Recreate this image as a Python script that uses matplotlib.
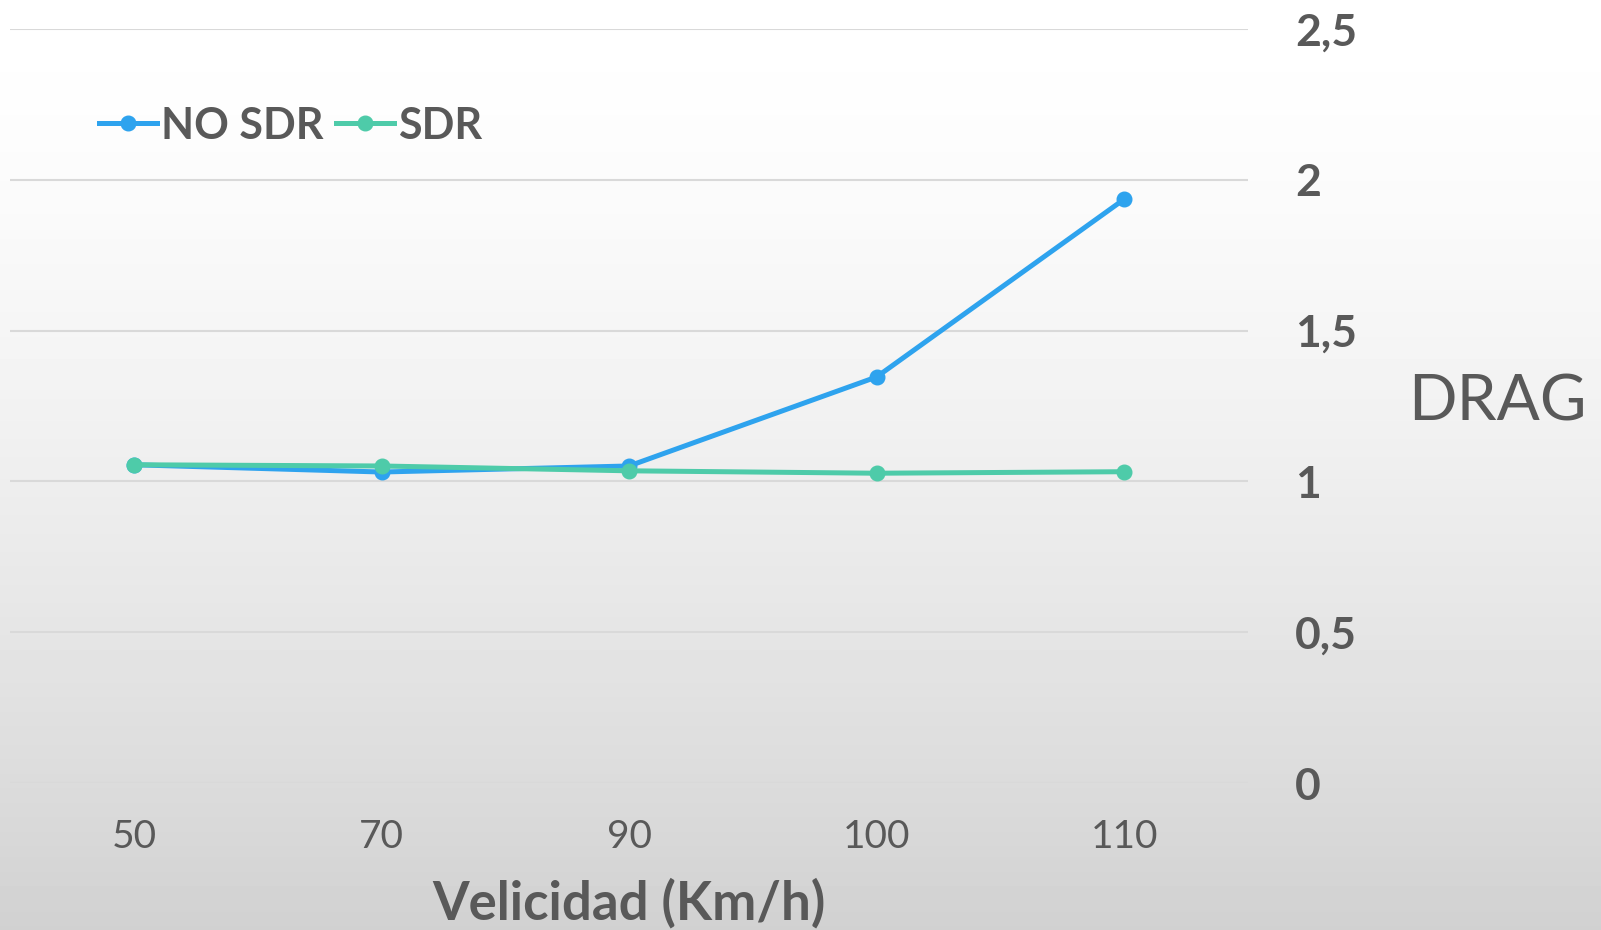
import numpy as np
import matplotlib
matplotlib.use("Agg")
import matplotlib.pyplot as plt

# data
velocidad = ["50", "70", "90", "100", "110"]
no_sdr = [1.055, 1.031, 1.051, 1.346, 1.935]
sdr = [1.055, 1.051, 1.035, 1.027, 1.032]
y_ticks = [0, 0.5, 1, 1.5, 2, 2.5]
y_labels = ["0", "0,5", "1", "1,5", "2", "2,5"]

txt_color = "#595959"
blue = "#2EA3EE"
teal = "#4ECBA9"

plt.rcParams["font.family"] = ["Lato", "DejaVu Sans"]

fig = plt.figure(figsize=(16.01, 9.30), dpi=100)

# gradient background, white at top to light gray at bottom
bg = fig.add_axes([0, 0, 1, 1], zorder=-10)
t = np.linspace(0, 1, 256)
grad = (1.0 - 0.18 * t ** 1.5).reshape(-1, 1)
bg.imshow(grad, cmap="gray", vmin=0, vmax=1, aspect="auto", extent=[0, 1, 0, 1])
bg.axis("off")

ax = fig.add_axes([0.0064, 0.158, 0.773, 0.811])
ax.patch.set_alpha(0)

x = np.arange(len(velocidad))
ax.plot(x, no_sdr, color=blue, lw=3.6, marker="o", ms=10.5, label="NO SDR", zorder=3)
ax.plot(x, sdr, color=teal, lw=3.6, marker="o", ms=10.5, label="SDR", zorder=4)

ax.set_xlim(-0.5, len(velocidad) - 0.5)
ax.set_ylim(0, 2.5)
ax.set_xticks(x)
ax.set_xticklabels(velocidad, fontsize=28, color=txt_color)
ax.yaxis.tick_right()
ax.set_yticks(y_ticks)
ax.set_yticklabels(y_labels, fontsize=32, fontweight="bold", color=txt_color)
ax.tick_params(axis="both", length=0)
ax.tick_params(axis="y", pad=34)
ax.tick_params(axis="x", pad=26)

ax.grid(axis="y", color="#D9D9D9", lw=1.5)
ax.set_axisbelow(True)
for s in ax.spines.values():
    s.set_visible(False)

ax.set_xlabel("Velicidad (Km/h)", fontsize=38, fontweight="bold", color=txt_color, labelpad=16)

fig.text(0.935, 0.567, "DRAG", fontsize=46, color=txt_color, ha="center", va="center")

leg = ax.legend(loc="center left", bbox_to_anchor=(0.062, 0.865), bbox_transform=fig.transFigure,
                ncol=2, frameon=False, borderpad=0, borderaxespad=0,
                handlelength=1.35, handletextpad=0.08, columnspacing=0.3,
                prop={"size": 31, "weight": "bold"})
for t in leg.get_texts():
    t.set_color(txt_color)

fig.savefig("out.png", dpi=100)
